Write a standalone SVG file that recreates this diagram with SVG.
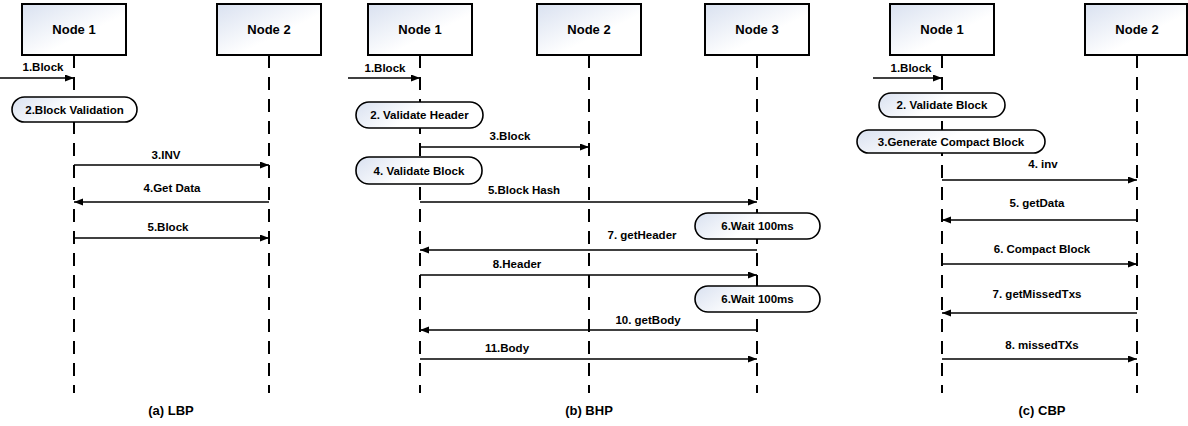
<svg xmlns="http://www.w3.org/2000/svg" width="1188" height="426" viewBox="0 0 1188 426">
  <defs>
    <linearGradient id="fillShade" x1="0" y1="0" x2="1" y2="1">
      <stop offset="0" stop-color="#d9e1f0"/>
      <stop offset="0.6" stop-color="#ffffff"/>
      <stop offset="1" stop-color="#ffffff"/>
    </linearGradient>
    <linearGradient id="pillShade" x1="0" y1="0" x2="1" y2="0.3">
      <stop offset="0" stop-color="#d9e1f0"/>
      <stop offset="0.55" stop-color="#ffffff"/>
      <stop offset="1" stop-color="#ffffff"/>
    </linearGradient>
    <marker id="arrow" markerUnits="userSpaceOnUse" markerWidth="10" markerHeight="8" refX="9" refY="3.5" orient="auto">
      <path d="M0,0 L9,3.5 L0,7 z" fill="#000"/>
    </marker>
  </defs>
  <style>
    .box { fill: url(#fillShade); stroke: #000; stroke-width: 2; }
    .pill { fill: url(#pillShade); stroke: #000; stroke-width: 1.6; }
    .life { stroke: #000; stroke-width: 2; stroke-dasharray: 13 9; fill: none; }
    .msg { stroke: #000; stroke-width: 1.3; fill: none; marker-end: url(#arrow); }
    text { font-family: "Liberation Sans", Arial, sans-serif; font-weight: bold; fill: #000; text-anchor: middle; }
    .nodeText { font-size: 13px; }
    .lbl { font-size: 11.5px; }
    .cap { font-size: 13px; }
  </style>
  <rect width="1188" height="426" fill="#fff"/>

  <!-- Lifelines and messages -->
  <g id="connectors">
    <!-- (a) LBP -->
    <line class="life" x1="74" y1="55" x2="74" y2="393"/>
    <line class="life" x1="269" y1="55" x2="269" y2="393"/>
    <line class="msg" x1="0" y1="78" x2="74" y2="78"/>
    <line class="msg" x1="74" y1="165" x2="269" y2="165"/>
    <line class="msg" x1="269" y1="202" x2="74" y2="202"/>
    <line class="msg" x1="74" y1="238" x2="269" y2="238"/>

    <!-- (b) BHP -->
    <line class="life" x1="420" y1="55" x2="420" y2="393"/>
    <line class="life" x1="589" y1="55" x2="589" y2="393"/>
    <line class="life" x1="757" y1="55" x2="757" y2="393"/>
    <line class="msg" x1="348" y1="78" x2="420" y2="78"/>
    <line class="msg" x1="420" y1="147" x2="589" y2="147"/>
    <line class="msg" x1="420" y1="202" x2="757" y2="202"/>
    <line class="msg" x1="757" y1="250" x2="420" y2="250"/>
    <line class="msg" x1="420" y1="275" x2="757" y2="275"/>
    <line class="msg" x1="757" y1="330" x2="420" y2="330"/>
    <line class="msg" x1="420" y1="359" x2="757" y2="359"/>

    <!-- (c) CBP -->
    <line class="life" x1="942" y1="55" x2="942" y2="393"/>
    <line class="life" x1="1137" y1="55" x2="1137" y2="393"/>
    <line class="msg" x1="873" y1="78" x2="942" y2="78"/>
    <line class="msg" x1="942" y1="180" x2="1137" y2="180"/>
    <line class="msg" x1="1137" y1="220" x2="942" y2="220"/>
    <line class="msg" x1="942" y1="264" x2="1137" y2="264"/>
    <line class="msg" x1="1137" y1="313" x2="942" y2="313"/>
    <line class="msg" x1="942" y1="359" x2="1137" y2="359"/>
  </g>

  <!-- Message labels -->
  <g id="labels">
    <text class="lbl" x="43" y="71">1.Block</text>
    <text class="lbl" x="166" y="159">3.INV</text>
    <text class="lbl" x="172" y="192">4.Get Data</text>
    <text class="lbl" x="168" y="231">5.Block</text>

    <text class="lbl" x="385" y="72">1.Block</text>
    <text class="lbl" x="510" y="140">3.Block</text>
    <text class="lbl" x="524" y="194">5.Block Hash</text>
    <text class="lbl" x="642" y="239">7. getHeader</text>
    <text class="lbl" x="517" y="268">8.Header</text>
    <text class="lbl" x="648" y="324">10. getBody</text>
    <text class="lbl" x="507" y="352">11.Body</text>

    <text class="lbl" x="911" y="72">1.Block</text>
    <text class="lbl" x="1043" y="168">4. inv</text>
    <text class="lbl" x="1037" y="207">5. getData</text>
    <text class="lbl" x="1042" y="253">6. Compact Block</text>
    <text class="lbl" x="1037" y="298">7. getMissedTxs</text>
    <text class="lbl" x="1042" y="349">8. missedTXs</text>
  </g>

  <!-- (a) LBP nodes -->
  <g id="lbp-node1">
    <rect class="box" x="22" y="4" width="104" height="51"/>
    <text class="nodeText" x="74" y="34">Node 1</text>
  </g>
  <g id="lbp-node2">
    <rect class="box" x="217" y="4" width="104" height="51"/>
    <text class="nodeText" x="269" y="34">Node 2</text>
  </g>
  <g id="lbp-step2">
    <rect class="pill" x="12" y="97" width="125" height="25" rx="12.5"/>
    <text class="lbl" x="74.5" y="114">2.Block Validation</text>
  </g>

  <!-- (b) BHP nodes -->
  <g id="bhp-node1">
    <rect class="box" x="368" y="4" width="104" height="51"/>
    <text class="nodeText" x="420" y="34">Node 1</text>
  </g>
  <g id="bhp-node2">
    <rect class="box" x="537" y="4" width="104" height="51"/>
    <text class="nodeText" x="589" y="34">Node 2</text>
  </g>
  <g id="bhp-node3">
    <rect class="box" x="705" y="4" width="104" height="51"/>
    <text class="nodeText" x="757" y="34">Node 3</text>
  </g>
  <g id="bhp-step2">
    <rect class="pill" x="356" y="102" width="127" height="26" rx="13"/>
    <text class="lbl" x="419.5" y="119">2. Validate Header</text>
  </g>
  <g id="bhp-step4">
    <rect class="pill" x="356" y="157" width="126" height="27" rx="13"/>
    <text class="lbl" x="419" y="175">4. Validate Block</text>
  </g>
  <g id="bhp-wait1">
    <rect class="pill" x="695" y="213" width="125" height="26" rx="13"/>
    <text class="lbl" x="757.5" y="230">6.Wait 100ms</text>
  </g>
  <g id="bhp-wait2">
    <rect class="pill" x="695" y="286" width="125" height="26" rx="13"/>
    <text class="lbl" x="757.5" y="303">6.Wait 100ms</text>
  </g>

  <!-- (c) CBP nodes -->
  <g id="cbp-node1">
    <rect class="box" x="890" y="4" width="104" height="51"/>
    <text class="nodeText" x="942" y="34">Node 1</text>
  </g>
  <g id="cbp-node2">
    <rect class="box" x="1085" y="4" width="102" height="51"/>
    <text class="nodeText" x="1137" y="34">Node 2</text>
  </g>
  <g id="cbp-step2">
    <rect class="pill" x="879" y="93" width="126" height="24" rx="12"/>
    <text class="lbl" x="942" y="109">2. Validate Block</text>
  </g>
  <g id="cbp-step3">
    <rect class="pill" x="857" y="130" width="188" height="23" rx="11.5"/>
    <text class="lbl" x="951" y="146">3.Generate Compact Block</text>
  </g>

  <!-- Panel captions -->
  <g id="captions">
    <text class="cap" x="171" y="415">(a) LBP</text>
    <text class="cap" x="589" y="415">(b) BHP</text>
    <text class="cap" x="1042" y="415">(c) CBP</text>
  </g>
</svg>
